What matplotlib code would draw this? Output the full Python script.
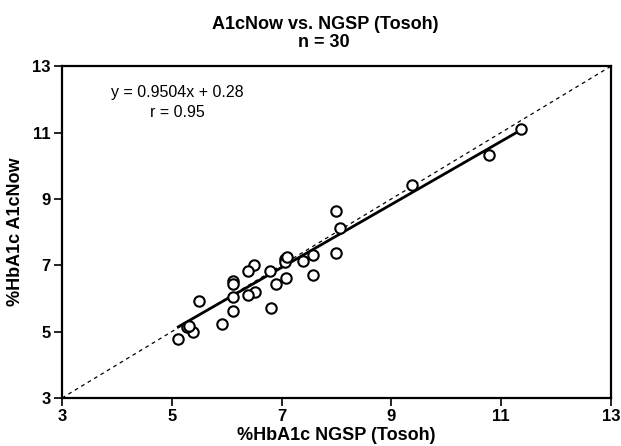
import numpy as np
import matplotlib.pyplot as plt

plt.rcParams['font.family'] = ['Liberation Sans', 'DejaVu Sans']

# %HbA1c NGSP (Tosoh) vs. %HbA1c A1cNow
ngsp = [11.37, 10.77, 9.38, 7.99, 8.07, 7.99, 7.58, 7.58, 7.39, 7.07,
        7.07, 7.09, 6.79, 7.08, 6.90, 6.80, 6.49, 6.39, 6.51, 6.39,
        6.11, 6.11, 6.11, 6.11, 5.91, 5.50, 5.39, 5.27, 5.32, 5.12]
a1cnow = [11.10, 10.33, 9.42, 8.64, 8.13, 7.38, 7.32, 6.72, 7.12, 7.20,
          7.11, 7.26, 6.84, 6.62, 6.44, 5.72, 7.02, 6.82, 6.20, 6.10,
          6.54, 6.44, 6.04, 5.62, 5.22, 5.92, 5.00, 5.14, 5.16, 4.77]

slope, intercept = 0.9504, 0.28
ticks = [3, 5, 7, 9, 11, 13]

fig = plt.figure(figsize=(6.21, 4.46), dpi=100)
ax = fig.add_axes([0.0998, 0.1076, 0.884, 0.744])

# identity line
ax.plot([3, 13], [3, 13], color='black', linestyle=(0, (3, 3)), linewidth=0.9)

# regression line over the data range
xfit = np.array([min(ngsp), max(ngsp)])
ax.plot(xfit, slope * xfit + intercept, color='black', linewidth=2.0)

ax.plot(ngsp, a1cnow, linestyle='none', marker='o', markersize=7.5,
        markerfacecolor='white', markeredgecolor='black', markeredgewidth=1.5)

ax.set_xlim(3, 13)
ax.set_ylim(3, 13)
ax.set_xticks(ticks)
ax.set_yticks(ticks)
ax.tick_params(direction='out', length=6, width=1.2, labelsize=12, pad=2)
for lab in ax.get_xticklabels() + ax.get_yticklabels():
    lab.set_fontweight('bold')
for s in ax.spines.values():
    s.set_linewidth(1.6)

ax.text(0.21, 0.89, 'y = 0.9504x + 0.28\nr = 0.95', transform=ax.transAxes,
        ha='center', va='center', fontsize=11.5, linespacing=1.4)

fig.text(0.523, 0.946, 'A1cNow vs. NGSP (Tosoh)', ha='center', va='center',
         fontsize=13, fontweight='bold')
fig.text(0.522, 0.905, 'n = 30', ha='center', va='center',
         fontsize=13, fontweight='bold')

ax.set_xlabel('%HbA1c NGSP (Tosoh)', fontsize=13, fontweight='bold', labelpad=2)
ax.set_ylabel('%HbA1c A1cNow', fontsize=13, fontweight='bold', labelpad=6)

fig.savefig('out.png', dpi=100)
